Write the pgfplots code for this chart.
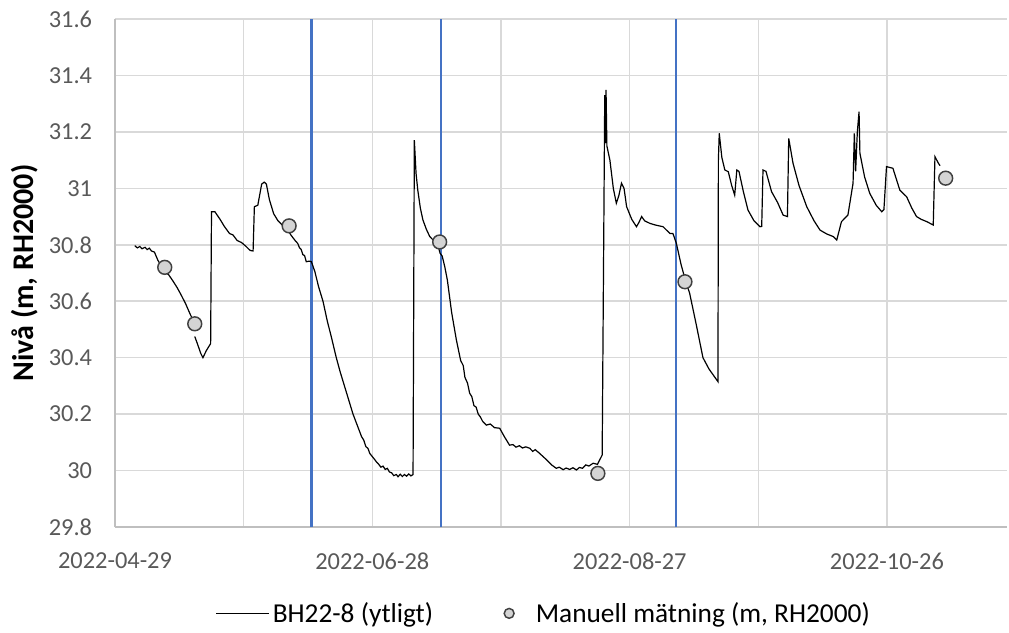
\documentclass[border=0pt]{standalone}
\usepackage{fontspec}
\setmainfont{Carlito}
\usepackage{pgfplots}
\pgfplotsset{compat=1.18}
\definecolor{gridgray}{HTML}{D9D9D9}
\definecolor{axgray}{HTML}{BFBFBF}
\definecolor{labgray}{HTML}{595959}
\definecolor{exblue}{HTML}{4472C4}
\definecolor{markfill}{HTML}{D4D4D4}
\definecolor{markdraw}{HTML}{404040}
\pgfplotsset{
  shortline/.style={legend image code/.code={\draw[##1] (0pt,0pt) -- (40pt,0pt);}},
  smalldot/.style={legend image code/.code={\path[draw=none] (-5pt,0pt) -- (18pt,0pt); \draw[##1, mark size=3.7pt] plot coordinates {(0pt,0pt)};}},
}

\begin{document}
\begin{tikzpicture}
% fixed page size: 1009x632 px at 0.75pt per px, axis box at origin
\useasboundingbox (-86.25pt,-78.75pt) rectangle (670.5pt,395.25pt);
\begin{axis}[
    scale only axis,
    width=669pt, height=381pt,
    xmin=0, xmax=208,
    ymin=29.8, ymax=31.6,
    unbounded coords=jump,
    font=\fontsize{18.3}{22}\selectfont,
    /pgf/number format/assume math mode=true,
    ytick={29.8,30,30.2,30.4,30.6,30.8,31,31.2,31.4,31.6},
    xtick={0,60,120,180},
    xticklabels={2022-04-29,2022-06-28,2022-08-27,2022-10-26},
    minor xtick={30,90,150},
    grid=both,
    major grid style={gridgray, line width=1.1pt},
    minor grid style={gridgray, line width=1.1pt},
    axis x line*=bottom, axis y line*=left,
    axis line style={-, axgray, line width=1.2pt},
    tick style={draw=none},
    ticklabel style={text=labgray},
    every x tick label/.append style={inner sep=0pt, yshift=-19pt},
    every y tick label/.append style={inner sep=0pt, xshift=-17pt},
    ylabel={\fontsize{22.5}{26}\selectfont\bfseries Nivå (m, RH2000)},
    every axis y label/.style={at={(axis description cs:-0.101,0.5)}, rotate=90, anchor=center},
    legend style={at={(0.481,-0.17)}, anchor=center, draw=none, fill=none,
        legend columns=2, font=\fontsize{20.5}{24}\selectfont,
        /tikz/every even column/.append style={column sep=50pt},
        nodes={inner sep=2pt}},
]
% blue marker lines
\addplot[exblue, line width=1.8pt, forget plot] coordinates {(45.8,29.8) (45.8,31.6)};
\addplot[exblue, line width=1.8pt, forget plot] coordinates {(76.0,29.8) (76.0,31.6)};
\addplot[exblue, line width=1.8pt, forget plot] coordinates {(130.8,29.8) (130.8,31.6)};

% logger series
\addplot[black, line width=0.9pt, shortline] coordinates {
(4.6,30.797) (5.2,30.789) (5.8,30.794) (6.3,30.786) (7.0,30.791) (7.5,30.783) (8.0,30.788) (8.5,30.778)
(9.2,30.774) (10.0,30.745) (10.8,30.725) (11.6,30.705) (12.5,30.694) (13.5,30.672) (14.5,30.648)
(15.5,30.620) (16.5,30.590) (17.5,30.555) (18.3,30.530) (18.45,nan)
(18.6,30.475) (19.2,30.450) (20.0,30.415) (20.5,30.400) (21.3,30.425) (22.3,30.450)
(22.5,30.917) (23.3,30.917) (24.5,30.890) (25.5,30.865) (26.7,30.840) (27.5,30.835) (28.5,30.815)
(29.5,30.808) (30.5,30.795) (31.5,30.780) (32.2,30.778) (32.5,30.935) (33.3,30.940) (34.2,31.015)
(34.8,31.022) (35.3,31.015) (36.0,30.960) (37.0,30.910) (38.0,30.885) (39.0,30.870) (40.0,30.860)
(41.0,30.835) (42.0,30.815) (42.6,30.805) (43.0,30.790) (43.4,30.784) (43.8,30.765) (44.2,30.762)
(44.6,30.740) (45.3,30.742) (45.8,30.740)
(46.6,30.705) (47.5,30.650) (48.5,30.600) (49.5,30.530) (50.5,30.470) (51.6,30.400) (52.5,30.350)
(53.5,30.300) (54.5,30.250) (55.5,30.200) (56.5,30.160) (57.5,30.120) (58.0,30.108) (58.5,30.085)
(59.0,30.078) (59.4,30.061)
(60.5,30.040) (61.0,30.030) (61.5,30.022) (62.0,30.012) (62.5,30.016) (63.0,30.004) (63.5,30.008)
(64.0,29.995) (64.5,29.992) (65.0,29.982) (65.6,29.986) (66.0,29.978) (66.5,29.987) (67.0,29.979)
(67.5,29.986) (68.0,29.980) (68.5,29.988) (69.0,29.981) (69.5,29.986)
(69.8,31.171) (70.2,31.053) (70.6,30.994) (71.2,30.930) (71.8,30.888) (72.6,30.855) (73.4,30.829)
(74.3,30.815) (75.2,30.805) (75.8,30.770) (76.3,30.760) (76.9,30.722) (77.5,30.675) (78.5,30.560)
(79.6,30.463) (80.6,30.390) (81.2,30.372) (81.6,30.330) (82.2,30.310) (82.7,30.274) (83.2,30.262)
(83.7,30.230) (84.2,30.225) (84.7,30.200) (85.2,30.190) (85.7,30.175)
(86.6,30.161) (87.5,30.165) (88.5,30.152) (89.7,30.150) (90.8,30.120) (92.0,30.090) (92.8,30.092)
(93.5,30.083) (94.3,30.088) (95.0,30.080) (95.8,30.084) (96.7,30.079) (97.4,30.068) (98.0,30.074)
(99.0,30.061) (100.5,30.040) (101.8,30.020) (102.9,30.008) (103.6,30.012) (104.5,30.003)
(105.2,30.009) (106.0,30.004) (106.8,30.010) (107.6,30.002) (108.3,30.011) (109.0,30.008)
(109.8,30.020) (110.5,30.016) (111.5,30.026) (112.5,30.022) (113.6,30.055)
(114.0,30.900) (114.2,31.330) (114.3,31.160) (114.5,31.349) (114.7,31.150) (115.4,31.100)
(116.2,31.000) (116.9,30.947) (117.5,30.975) (118.1,31.018) (118.7,31.000) (119.3,30.935)
(120.5,30.890) (121.6,30.864) (122.2,30.880) (122.8,30.900) (123.5,30.885) (124.7,30.876)
(126.0,30.870) (127.8,30.864) (129.4,30.840) (130.1,30.840) (130.9,30.805) (132.0,30.730)
(132.9,30.680) (134.0,30.628) (135.5,30.520) (137.1,30.400) (138.5,30.360) (140.6,30.315)
(140.7,31.100) (140.9,31.195) (141.5,31.110) (142.2,31.065) (143.0,31.059) (143.8,31.010)
(144.5,30.976) (145.0,31.065) (145.5,31.060) (146.5,30.990) (147.6,30.923) (149.0,30.885)
(150.4,30.864) (150.8,30.865) (151.1,31.065) (151.8,31.060) (153.1,30.988) (154.5,30.950)
(155.8,30.905) (156.8,30.900) (157.1,31.177) (158.1,31.089) (159.5,31.010) (161.3,30.935)
(163.0,30.885) (164.4,30.852) (166.0,30.838) (167.5,30.829) (168.3,30.817) (169.4,30.882)
(170.9,30.905) (172.1,31.018) (172.4,31.195) (172.7,31.060) (173.1,31.200) (173.5,31.272)
(173.7,31.124) (174.8,31.040) (176.0,30.982) (177.5,30.940) (178.8,30.917) (179.3,30.925)
(179.9,31.077) (181.4,31.071) (183.0,30.994) (184.6,30.970) (185.8,30.930) (186.9,30.900)
(188.0,30.890) (189.3,30.882) (190.8,30.870) (191.2,31.112) (192.0,31.089) (192.4,31.080)
};
\addlegendentry{BH22-8 (ytligt)}

% manual readings
\addplot[only marks, mark=*, mark size=5.2pt, mark options={fill=markfill, draw=markdraw, line width=1.1pt}, smalldot] coordinates {
(11.6,30.72) (18.6,30.52) (40.6,30.867) (75.7,30.81) (112.6,29.99) (132.9,30.669) (193.7,31.036)
};
\addlegendentry{Manuell mätning (m, RH2000)}
\end{axis}
\end{tikzpicture}
\end{document}
